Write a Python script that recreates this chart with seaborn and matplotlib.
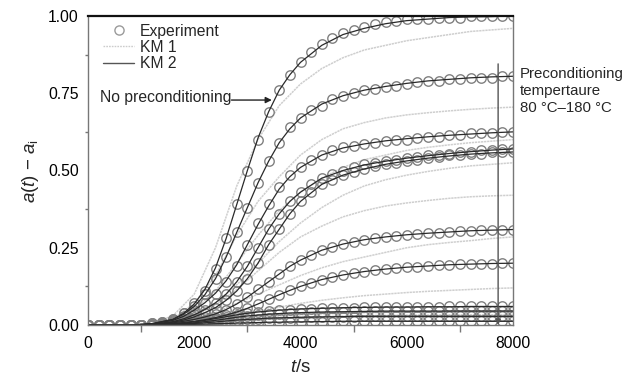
import matplotlib
matplotlib.use("Agg")
import matplotlib.pyplot as plt
import seaborn as sns
import numpy as np
import pandas as pd
from matplotlib.lines import Line2D
from matplotlib.ticker import MultipleLocator

# ---------------- data ----------------
t_exp = list(range(0, 8001, 200))
t_km2 = [0, 400, 800, 1200, 1600, 1800, 2000, 2200, 2400, 2600, 2800, 3000, 3200, 3400,
         3600, 3800, 4000, 4400, 4800, 5200, 5600, 6000, 6400, 6800, 7200, 7600, 8000]
t_km1 = list(range(0, 8001, 400))

exp_none = [0, 0, 0, 0, 0, 0, 0.005, 0.01, 0.02, 0.04, 0.07, 0.11, 0.18, 0.28, 0.39, 0.50,
            0.60, 0.69, 0.76, 0.81, 0.85, 0.885, 0.91, 0.93, 0.945, 0.955, 0.965, 0.975, 0.98,
            0.985, 0.99, 0.99, 0.99, 0.995, 0.995, 0.995, 1.0, 1.0, 1.0, 1.0, 1.0]
exp_2 = [0, 0, 0, 0, 0, 0, 0.005, 0.01, 0.02, 0.04, 0.06, 0.10, 0.15, 0.22, 0.30, 0.38,
         0.46, 0.53, 0.59, 0.64, 0.67, 0.695, 0.71, 0.73, 0.74, 0.75, 0.76, 0.765, 0.77,
         0.775, 0.78, 0.785, 0.79, 0.79, 0.795, 0.795, 0.80, 0.80, 0.80, 0.805, 0.805]
exp_3 = [0, 0, 0, 0, 0, 0, 0.003, 0.008, 0.015, 0.03, 0.05, 0.07, 0.10, 0.14, 0.19, 0.26,
         0.33, 0.39, 0.445, 0.485, 0.51, 0.535, 0.55, 0.565, 0.575, 0.58, 0.585, 0.59, 0.595,
         0.60, 0.60, 0.605, 0.61, 0.61, 0.615, 0.615, 0.62, 0.62, 0.62, 0.625, 0.625]
exp_4 = [0, 0, 0, 0, 0, 0, 0.003, 0.006, 0.012, 0.02, 0.035, 0.05, 0.07, 0.10, 0.14, 0.19,
         0.25, 0.31, 0.36, 0.40, 0.43, 0.455, 0.475, 0.49, 0.50, 0.51, 0.52, 0.525, 0.53,
         0.535, 0.54, 0.545, 0.55, 0.55, 0.555, 0.56, 0.56, 0.565, 0.565, 0.57, 0.57]
exp_5 = [0, 0, 0, 0, 0, 0, 0.002, 0.005, 0.01, 0.017, 0.027, 0.04, 0.055, 0.08, 0.11, 0.15,
         0.20, 0.26, 0.31, 0.36, 0.40, 0.43, 0.455, 0.47, 0.485, 0.495, 0.505, 0.515, 0.52,
         0.525, 0.53, 0.535, 0.54, 0.545, 0.55, 0.55, 0.555, 0.555, 0.56, 0.56, 0.56]
exp_6 = [0, 0, 0, 0, 0, 0, 0.002, 0.004, 0.007, 0.012, 0.018, 0.026, 0.036, 0.05, 0.068, 0.09,
         0.115, 0.14, 0.165, 0.19, 0.21, 0.228, 0.242, 0.253, 0.262, 0.27, 0.276, 0.281, 0.285,
         0.289, 0.292, 0.295, 0.297, 0.299, 0.301, 0.303, 0.305, 0.306, 0.307, 0.308, 0.309]
exp_7 = [0, 0, 0, 0, 0, 0, 0.001, 0.003, 0.005, 0.008, 0.012, 0.017, 0.024, 0.032, 0.042, 0.054,
         0.068, 0.083, 0.098, 0.112, 0.125, 0.137, 0.147, 0.155, 0.162, 0.168, 0.173, 0.177, 0.181,
         0.184, 0.187, 0.189, 0.191, 0.193, 0.195, 0.196, 0.197, 0.198, 0.199, 0.2, 0.2]
exp_8 = [0, 0, 0, 0, 0, 0, 0, 0, 0.003, 0.006, 0.01, 0.015, 0.021, 0.027, 0.033, 0.038,
         0.042, 0.045, 0.048, 0.05, 0.052, 0.053, 0.054, 0.055, 0.056, 0.056, 0.057, 0.057, 0.058,
         0.058, 0.058, 0.059, 0.059, 0.059, 0.06, 0.06, 0.06, 0.06, 0.06, 0.06, 0.06]
exp_9 = [0, 0, 0, 0, 0, 0, 0, 0, 0.002, 0.004, 0.007, 0.011, 0.015, 0.02, 0.025, 0.029,
         0.032, 0.035, 0.037, 0.039, 0.04, 0.041, 0.042, 0.043, 0.043, 0.044, 0.044, 0.044, 0.045,
         0.045, 0.045, 0.045, 0.045, 0.045, 0.045, 0.045, 0.045, 0.045, 0.045, 0.045, 0.045]
exp_10 = [0, 0, 0, 0, 0, 0, 0, 0, 0.001, 0.003, 0.005, 0.007, 0.01, 0.013, 0.016, 0.018,
          0.02, 0.022, 0.023, 0.024, 0.025, 0.026, 0.026, 0.027, 0.027, 0.027, 0.028, 0.028, 0.028,
          0.028, 0.028, 0.028, 0.028, 0.028, 0.028, 0.028, 0.028, 0.028, 0.028, 0.028, 0.028]
exp_11 = [0, 0, 0, 0, 0, 0, 0, 0, 0.001, 0.001, 0.002, 0.003, 0.004, 0.005, 0.006, 0.007,
          0.008, 0.009, 0.009, 0.01, 0.01, 0.011, 0.011, 0.011, 0.012, 0.012, 0.012, 0.012, 0.012,
          0.012, 0.012, 0.012, 0.012, 0.012, 0.012, 0.012, 0.012, 0.012, 0.012, 0.012, 0.012]

km2_none = [0, 0, 0, 0.004, 0.018, 0.038, 0.068, 0.115, 0.185, 0.28, 0.39, 0.50, 0.605, 0.69,
            0.76, 0.81, 0.85, 0.905, 0.94, 0.96, 0.975, 0.985, 0.99, 0.995, 0.997, 0.998, 1.0]
km2_2 = [0, 0, 0, 0.004, 0.018, 0.035, 0.06, 0.098, 0.15, 0.22, 0.30, 0.38, 0.46, 0.53,
         0.59, 0.635, 0.67, 0.715, 0.742, 0.76, 0.772, 0.782, 0.79, 0.795, 0.80, 0.803, 0.805]
km2_3 = [0, 0, 0, 0.003, 0.015, 0.028, 0.048, 0.072, 0.103, 0.143, 0.195, 0.26, 0.325, 0.385,
         0.44, 0.48, 0.51, 0.55, 0.573, 0.586, 0.596, 0.603, 0.609, 0.614, 0.618, 0.622, 0.625]
km2_4 = [0, 0, 0, 0.002, 0.011, 0.02, 0.033, 0.05, 0.072, 0.10, 0.14, 0.19, 0.25, 0.31,
         0.36, 0.40, 0.43, 0.475, 0.50, 0.518, 0.53, 0.54, 0.548, 0.555, 0.561, 0.566, 0.57]
km2_5 = [0, 0, 0, 0.002, 0.009, 0.016, 0.026, 0.04, 0.056, 0.08, 0.11, 0.15, 0.20, 0.26,
         0.31, 0.36, 0.40, 0.455, 0.485, 0.505, 0.52, 0.531, 0.54, 0.547, 0.553, 0.557, 0.56]
km2_6 = [0, 0, 0, 0.002, 0.007, 0.012, 0.018, 0.026, 0.036, 0.05, 0.068, 0.09, 0.115, 0.14,
         0.165, 0.19, 0.21, 0.242, 0.262, 0.276, 0.285, 0.292, 0.297, 0.301, 0.305, 0.307, 0.309]
km2_7 = [0, 0, 0, 0.001, 0.005, 0.008, 0.012, 0.017, 0.024, 0.032, 0.042, 0.054, 0.068, 0.083,
         0.098, 0.112, 0.125, 0.147, 0.162, 0.173, 0.181, 0.187, 0.191, 0.195, 0.197, 0.199, 0.2]
km2_8 = [0, 0, 0, 0, 0.003, 0.006, 0.01, 0.015, 0.021, 0.027, 0.033, 0.038, 0.042, 0.045,
         0.048, 0.05, 0.052, 0.054, 0.056, 0.057, 0.058, 0.058, 0.059, 0.059, 0.06, 0.06, 0.06]
km2_9 = [0, 0, 0, 0, 0.002, 0.004, 0.007, 0.011, 0.015, 0.02, 0.025, 0.029, 0.032, 0.035,
         0.037, 0.039, 0.04, 0.042, 0.043, 0.044, 0.045, 0.045, 0.045, 0.045, 0.045, 0.045, 0.045]
km2_10 = [0, 0, 0, 0, 0.001, 0.003, 0.005, 0.007, 0.01, 0.013, 0.016, 0.018, 0.02, 0.022,
          0.023, 0.024, 0.025, 0.026, 0.027, 0.028, 0.028, 0.028, 0.028, 0.028, 0.028, 0.028, 0.028]
km2_11 = [0, 0, 0, 0, 0.001, 0.001, 0.002, 0.003, 0.004, 0.005, 0.006, 0.007, 0.008, 0.009,
          0.009, 0.01, 0.01, 0.011, 0.012, 0.012, 0.012, 0.012, 0.012, 0.012, 0.012, 0.012, 0.012]

km1_none = [0, 0, 0, 0.005, 0.03, 0.10, 0.25, 0.45, 0.60, 0.71, 0.78, 0.83, 0.865, 0.89,
            0.905, 0.92, 0.93, 0.94, 0.95, 0.955, 0.96]
km1_2 = [0, 0, 0, 0.004, 0.02, 0.07, 0.16, 0.29, 0.40, 0.48, 0.55, 0.60, 0.635, 0.655,
         0.67, 0.68, 0.687, 0.693, 0.698, 0.702, 0.705]
km1_3 = [0, 0, 0, 0.003, 0.015, 0.05, 0.11, 0.20, 0.29, 0.37, 0.43, 0.475, 0.51, 0.535,
         0.55, 0.565, 0.575, 0.583, 0.59, 0.595, 0.60]
km1_4 = [0, 0, 0, 0.002, 0.01, 0.03, 0.065, 0.115, 0.175, 0.235, 0.285, 0.32, 0.35, 0.37,
         0.385, 0.395, 0.403, 0.41, 0.415, 0.418, 0.42]
km1_5 = [0, 0, 0, 0.002, 0.01, 0.03, 0.07, 0.13, 0.20, 0.27, 0.33, 0.38, 0.42, 0.45,
         0.47, 0.485, 0.497, 0.507, 0.515, 0.52, 0.525]
km1_6 = [0, 0, 0, 0.001, 0.006, 0.018, 0.04, 0.07, 0.10, 0.13, 0.16, 0.185, 0.205, 0.22,
         0.235, 0.25, 0.26, 0.267, 0.273, 0.28, 0.285]
km1_7 = [0, 0, 0, 0.001, 0.004, 0.01, 0.02, 0.032, 0.045, 0.058, 0.07, 0.08, 0.088, 0.095,
         0.10, 0.105, 0.109, 0.112, 0.115, 0.118, 0.12]
km1_8 = [0, 0, 0, 0, 0.002, 0.006, 0.012, 0.018, 0.024, 0.029, 0.033, 0.036, 0.038, 0.04,
         0.041, 0.042, 0.043, 0.043, 0.044, 0.044, 0.045]
km1_9 = [0, 0, 0, 0, 0.001, 0.004, 0.008, 0.013, 0.018, 0.022, 0.025, 0.027, 0.029, 0.03,
         0.031, 0.032, 0.032, 0.033, 0.033, 0.033, 0.034]

x_ticks = [0, 2000, 4000, 6000, 8000]
y_ticks = [0.00, 0.25, 0.50, 0.75, 1.00]
legend_labels = ["Experiment", "KM 1", "KM 2"]
note_left = "No preconditioning"
note_right = "Preconditioning\ntempertaure\n80 °C–180 °C"

exp_all = [exp_none, exp_2, exp_3, exp_4, exp_5, exp_6, exp_7, exp_8, exp_9, exp_10, exp_11]
km2_all = [km2_none, km2_2, km2_3, km2_4, km2_5, km2_6, km2_7, km2_8, km2_9, km2_10, km2_11]
km1_all = [km1_none, km1_2, km1_3, km1_4, km1_5, km1_6, km1_7, km1_8, km1_9]
for s in exp_all:
    assert len(s) == len(t_exp), len(s)
for s in km2_all:
    assert len(s) == len(t_km2), len(s)
for s in km1_all:
    assert len(s) == len(t_km1), len(s)

# ---------------- style ----------------
sns.set_theme(style="white")
plt.rcParams["font.family"] = ["Liberation Sans", "DejaVu Sans"]
plt.rcParams["mathtext.fontset"] = "custom"
plt.rcParams["mathtext.rm"] = "Liberation Sans"
plt.rcParams["mathtext.it"] = "Liberation Sans:italic"
FS = 11.3

fig = plt.figure(figsize=(6.29, 3.83), dpi=100)
W, H = 629, 383
ax = fig.add_axes([88 / W, 1 - 325 / H, (513 - 88) / W, (325 - 16) / H])

exp_col = "#808080"
km1_col = "#cfcfcf"
km2_col = "#2a2a2a"

for s in km1_all:
    sns.lineplot(x=t_km1, y=s, ax=ax, color=km1_col, lw=1.1, linestyle=(0, (1.5, 0.5)),
                 estimator=None, sort=False, legend=False)
for s in exp_all:
    sns.lineplot(x=t_exp, y=s, ax=ax, linestyle="", marker="o", markersize=6.8,
                 markerfacecolor="none", markeredgecolor=exp_col, markeredgewidth=1.0,
                 estimator=None, sort=False, legend=False)
for s in km2_all:
    sns.lineplot(x=t_km2, y=s, ax=ax, color=km2_col, lw=0.9,
                 estimator=None, sort=False, legend=False)

ax.set_xlim(0, 8000)
ax.set_ylim(0, 1.0)
ax.set_xticks(x_ticks)
ax.set_xticklabels([str(v) for v in x_ticks])
ax.set_yticks(y_ticks)
ax.set_yticklabels([f"{v:.2f}" for v in y_ticks])
ax.xaxis.set_minor_locator(MultipleLocator(1000))
ax.yaxis.set_minor_locator(MultipleLocator(0.125))
ax.tick_params(axis="both", which="major", direction="out", length=5, width=1,
               color="#777777", labelsize=FS, labelcolor="black")
ax.tick_params(axis="x", which="major", pad=3)
ax.tick_params(axis="y", which="major", pad=1.5)
ax.tick_params(axis="x", which="minor", direction="out", length=5, width=1, color="#777777", bottom=True)
ax.tick_params(axis="y", which="minor", direction="out", length=2.5, width=1, color="#777777", left=True)

for side in ["left", "bottom", "right"]:
    ax.spines[side].set_color("#777777")
    ax.spines[side].set_linewidth(1.0)
ax.spines["top"].set_color("#111111")
ax.spines["top"].set_linewidth(1.6)

ax.set_xlabel(r"$t$/s", fontsize=13.5)
ax.set_ylabel(r"$a(t)$ − $a_{\mathrm{i}}$", fontsize=13.5)
ax.xaxis.set_label_coords(0.5, -0.11)
ax.yaxis.set_label_coords(-0.11, 0.5)

handles = [
    Line2D([], [], marker="o", linestyle="", markersize=6.6, markerfacecolor="none",
           markeredgecolor="#9a9a9a", markeredgewidth=1.0),
    Line2D([], [], color="#cccccc", lw=1.0, linestyle=(0, (1.2, 0.8))),
    Line2D([], [], color="#555555", lw=1.0),
]
ax.legend(handles, legend_labels, loc="upper left", bbox_to_anchor=(0.035, 0.975),
          frameon=False, fontsize=FS, handlelength=2.0, handletextpad=0.35,
          labelspacing=0.08, borderpad=0, borderaxespad=0)

ax.text(230, 0.735, note_left, fontsize=FS, ha="left", va="center")
ax.annotate("", xy=(3460, 0.728), xytext=(2700, 0.728),
            arrowprops=dict(arrowstyle="-|>", color="#222222", lw=1.0,
                            mutation_scale=9, shrinkA=0, shrinkB=0))
ax.annotate("", xy=(7720, 0.0), xytext=(7720, 0.845),
            arrowprops=dict(arrowstyle="-|>", color="#555555", lw=1.0,
                            mutation_scale=8, shrinkA=0, shrinkB=0))
ax.text(1.017, 0.835, note_right, transform=ax.transAxes, fontsize=10.8, ha="left",
        va="top", linespacing=1.28, clip_on=False)

fig.savefig("out.png", dpi=100)
